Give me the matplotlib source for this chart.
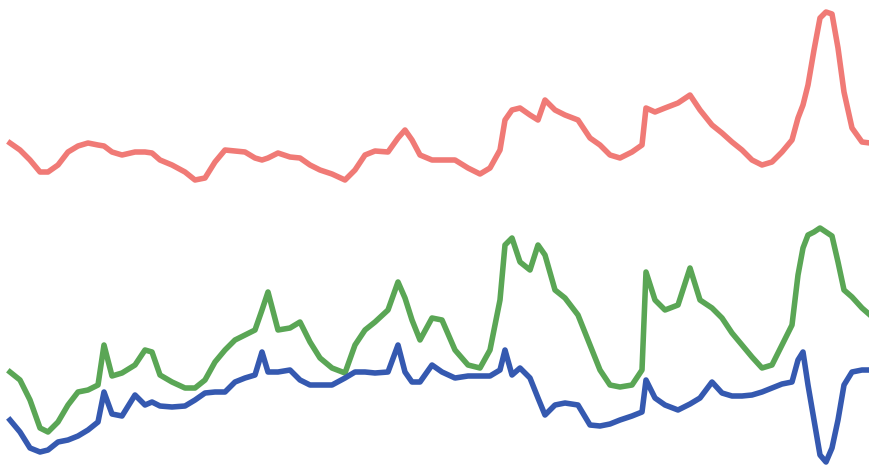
import matplotlib
matplotlib.use("Agg")
import matplotlib.pyplot as plt

# shared time axis (sample positions) and three series
t = [10, 20, 30, 40, 48, 58, 68, 78, 88, 98, 104, 112, 122, 135, 145, 152, 160,
     172, 185, 195, 205, 215, 225, 235, 245, 255, 262, 268, 278, 290, 300, 310,
     320, 332, 345, 355, 365, 375, 388, 398, 405, 412, 420, 432, 442, 455, 468,
     480, 490, 500, 505, 512, 520, 530, 538, 545, 555, 565, 578, 590, 600, 610,
     620, 632, 642, 646, 655, 665, 678, 690, 700, 712, 722, 732, 742, 752, 762,
     772, 782, 792, 798, 803, 808, 814, 820, 826, 832, 838, 844, 852, 862, 870]

red_depth = [143, 150, 160, 172, 172, 165, 152, 146, 143, 145, 146, 152, 155, 152,
             152, 153, 160, 165, 172, 180, 178, 162, 150, 151, 152, 158, 160, 158,
             153, 157, 158, 165, 170, 174, 180, 170, 155, 151, 152, 138, 130, 140,
             155, 160, 160, 160, 168, 174, 168, 150, 120, 110, 108, 115, 120, 100,
             110, 115, 120, 138, 145, 155, 158, 152, 145, 108, 112, 108, 103, 95,
             110, 125, 133, 142, 150, 160, 165, 162, 152, 140, 118, 105, 85, 50,
             18, 12, 14, 48, 92, 128, 142, 143]

green_depth = [372, 380, 400, 428, 432, 422, 405, 392, 390, 385, 345, 376, 373, 365,
               350, 352, 375, 382, 388, 388, 380, 362, 350, 340, 335, 330, 310, 292,
               330, 328, 322, 342, 358, 368, 373, 345, 330, 322, 310, 282, 298, 320,
               340, 318, 320, 350, 365, 368, 350, 300, 245, 238, 262, 270, 245, 255,
               290, 298, 315, 345, 370, 385, 387, 385, 370, 272, 300, 310, 305, 268,
               300, 308, 318, 333, 345, 357, 368, 365, 345, 325, 275, 248, 235, 232,
               228, 232, 236, 262, 290, 297, 308, 315]

blue_depth = [420, 432, 448, 452, 450, 442, 440, 436, 430, 422, 392, 414, 416, 395,
              405, 402, 406, 407, 406, 400, 393, 392, 392, 382, 378, 375, 352, 372,
              372, 370, 380, 385, 385, 385, 378, 372, 372, 373, 372, 345, 372, 382,
              382, 365, 372, 378, 376, 376, 376, 370, 350, 375, 368, 378, 398, 415,
              405, 403, 405, 425, 426, 424, 420, 416, 412, 380, 398, 405, 410, 404,
              398, 382, 393, 396, 396, 395, 392, 388, 384, 382, 360, 352, 385, 420,
              455, 462, 448, 420, 385, 372, 370, 370]

H = 468
red = [H - v for v in red_depth]
green = [H - v for v in green_depth]
blue = [H - v for v in blue_depth]

fig = plt.figure(figsize=(8.7, 4.68), dpi=100)
ax = fig.add_axes([0, 0, 1, 1])
ax.plot(t, red, color="#f07a76", lw=4, solid_joinstyle="round")
ax.plot(t, green, color="#5aa655", lw=4, solid_joinstyle="round")
ax.plot(t, blue, color="#3559b0", lw=4, solid_joinstyle="round")
ax.set_xlim(0, 870)
ax.set_ylim(0, H)
ax.axis("off")
fig.savefig("out.png", dpi=100, facecolor="white")
